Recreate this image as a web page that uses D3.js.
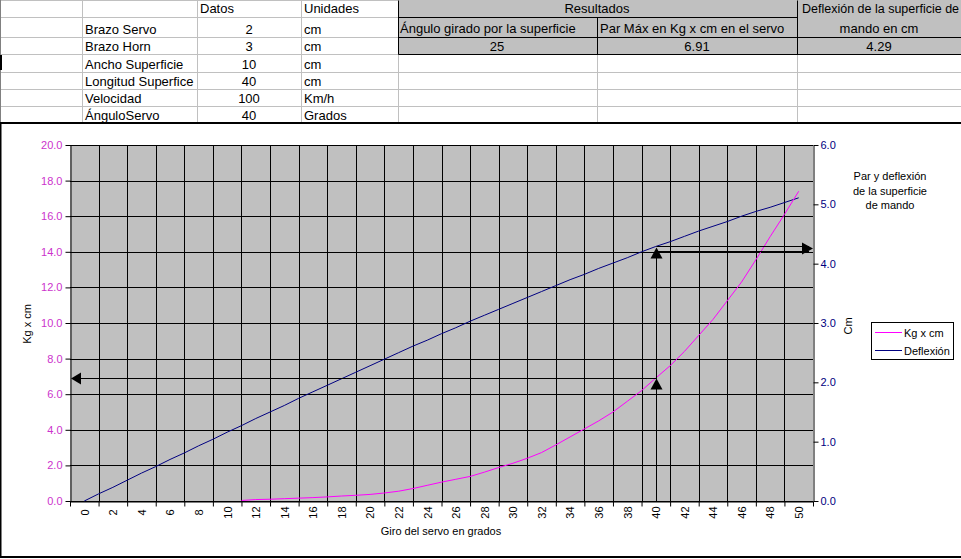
<!DOCTYPE html>
<html>
<head>
<meta charset="utf-8">
<script src="https://cdnjs.cloudflare.com/ajax/libs/d3/7.8.5/d3.min.js"></script>
<style>
body{margin:0;background:#fff;overflow:hidden}
text{font-family:"Liberation Sans",Arial,sans-serif}
</style>
</head>
<body>
<svg width="961" height="559"></svg>
<script>
// spreadsheet cells
var paramNames = ["Brazo Servo","Brazo Horn","Ancho Superficie","Longitud Superfice","Velocidad","ÁnguloServo"]
var paramValues = ["2","3","10","40","100","40"]
var paramUnits = ["cm","cm","cm","cm","Km/h","Grados"]
var resultHeaders = ["Ángulo girado por la superficie","Par Máx en Kg x cm en el servo"]
var resultValues = ["25","6.91","4.29"]

// chart data (servo angle in degrees)
var xLabels = [0,2,4,6,8,10,12,14,16,18,20,22,24,26,28,30,32,34,36,38,40,42,44,46,48,50]
var leftTicks = [0,2,4,6,8,10,12,14,16,18,20]
var rightTicks = [0,1,2,3,4,5,6]

var deflAngles = [0,1,2,3,4,5,6,7,8,9,10,11,12,13,14,15,16,17,18,19,20,21,22,23,24,25,
                  26,27,28,29,30,31,32,33,34,35,36,37,38,39,40,41,42,43,44,45,46,47,48,49,50]
var deflexion = [0,0.12,0.23,0.35,0.47,0.58,0.70,0.81,0.93,1.04,1.16,1.27,1.39,1.50,1.61,1.73,
                 1.84,1.95,2.06,2.17,2.28,2.39,2.50,2.61,2.71,2.82,2.92,3.03,3.13,3.23,3.33,3.43,
                 3.53,3.63,3.73,3.82,3.92,4.01,4.10,4.20,4.29,4.37,4.46,4.55,4.63,4.71,4.80,4.88,
                 4.95,5.03,5.11]

var parAngles = [11,12,13,14,15,16,17,18,19,20,21,22,23,24,25,26,27,28,29,30,
                 31,32,33,34,35,36,37,38,39,40,41,42,43,44,45,46,47,48,49,50]
var parKgCm = [0.03,0.08,0.1,0.13,0.16,0.19,0.23,0.28,0.32,0.37,0.45,0.55,0.7,0.88,1.06,1.22,1.38,1.62,1.88,2.12,
               2.4,2.72,3.15,3.6,4.05,4.5,5.0,5.6,6.2,6.91,7.6,8.4,9.3,10.2,11.25,12.3,13.55,14.85,16.1,17.4]

var servoAngle = 40, parMax = 6.91, deflMax = 4.29

var svg = d3.select("svg")
var font = "Liberation Sans, Arial, sans-serif"

//---------- spreadsheet part ----------
var rowEdges = [0,17,37,54,72,89,106,123]
var colEdges = [82,197,301,398,597,797]

var sheet = svg.append("g").attr("id","sheet")

// gray results block
sheet.append("rect").attr("x",398).attr("y",0).attr("width",570).attr("height",54).attr("fill","#c0c0c0")

rowEdges.forEach(function(r){
    sheet.append("line").attr("x1",0).attr("x2",961).attr("y1",r+0.5).attr("y2",r+0.5)
        .attr("stroke","#c0c0c0")
})
colEdges.forEach(function(c){
    sheet.append("line").attr("x1",c+0.5).attr("x2",c+0.5).attr("y1",0).attr("y2",123)
        .attr("stroke","#c0c0c0")
})
sheet.append("line").attr("x1",0.5).attr("x2",0.5).attr("y1",0).attr("y2",123).attr("stroke","#808080")
sheet.append("line").attr("x1",1).attr("x2",1).attr("y1",55).attr("y2",70).attr("stroke","#000").attr("stroke-width",2)

// black borders of results table
var borders = [[398,17,797,17],[398,37,961,37],[398,54,961,54],[398,0,398,54],[597,17,597,54],[797,0,797,54]]
borders.forEach(function(b){
    sheet.append("line").attr("x1",b[0]+0.5).attr("y1",b[1]+0.5).attr("x2",b[2]+0.5).attr("y2",b[3]+0.5)
        .attr("stroke","#000")
})

function cellText(t,x,y,anchor,size){
    sheet.append("text").text(t).attr("x",x).attr("y",y).attr("text-anchor",anchor||"start")
        .attr("font-size",size||"13px").attr("fill","#000")
}
cellText("Datos",200,13)
cellText("Unidades",304,13)
paramNames.forEach(function(n,i){
    var base = rowEdges[i+2]-3.5
    cellText(n,85,base)
    cellText(paramValues[i],249,base,"middle")
    cellText(paramUnits[i],304,base)
})
cellText("Resultados",597,13,"middle")
cellText(resultHeaders[0],400,33)
cellText(resultHeaders[1],600,33)
cellText("Deflexión de la superficie de",802,13,"start","12.5px")
cellText("mando en cm",879,33,"middle")
cellText(resultValues[0],497,51,"middle")
cellText(resultValues[1],697,51,"middle")
cellText(resultValues[2],879,51,"middle")

//---------- chart ----------
var chart = svg.append("g").attr("id","chart")
chart.append("rect").attr("x",0.5).attr("y",123).attr("width",965).attr("height",434)
    .attr("fill","#fff").attr("stroke","#000").attr("stroke-width",2)

var plot = {left:70,right:813,top:145,bottom:501}
var xScale = d3.scaleLinear().domain([-1,51]).range([plot.left,plot.right])
var yLeft = d3.scaleLinear().domain([0,20]).range([plot.bottom,plot.top])
var yRight = d3.scaleLinear().domain([0,6]).range([plot.bottom,plot.top])

chart.append("rect").attr("x",plot.left).attr("y",plot.top)
    .attr("width",plot.right-plot.left).attr("height",plot.bottom-plot.top).attr("fill","#c0c0c0")

// grid
chart.append("g").selectAll("line").data(leftTicks).enter().append("line")
    .attr("x1",plot.left).attr("x2",plot.right)
    .attr("y1",function(d){return Math.round(yLeft(d))+0.5})
    .attr("y2",function(d){return Math.round(yLeft(d))+0.5})
    .attr("stroke","#000")
var gridX = d3.range(1,50,2)
chart.append("g").selectAll("line").data(gridX).enter().append("line")
    .attr("x1",function(d){return Math.round(xScale(d))+0.5})
    .attr("x2",function(d){return Math.round(xScale(d))+0.5})
    .attr("y1",plot.top).attr("y2",plot.bottom)
    .attr("stroke","#000")

// axes
var leftAxis = chart.append("g").attr("transform","translate("+(plot.left+0.5)+",0)")
    .call(d3.axisLeft(yLeft).tickValues(leftTicks).tickSize(5).tickSizeOuter(0).tickFormat(d3.format(".1f")))
leftAxis.selectAll("text").attr("fill","#cc33cc").attr("font-size","11px").attr("font-family",font).attr("x",-8)

var rightAxis = chart.append("g").attr("transform","translate("+(plot.right+0.5)+",0)")
    .call(d3.axisRight(yRight).tickValues(rightTicks).tickSize(5).tickSizeOuter(0).tickFormat(d3.format(".1f")))
rightAxis.selectAll("text").attr("fill","#000080").attr("font-size","11px").attr("font-family",font).attr("x",7)

var bottomTicks = chart.append("g").attr("transform","translate(0,"+(plot.bottom+0.5)+")")
    .call(d3.axisBottom(xScale).tickValues(d3.range(-1,52,2)).tickSize(5).tickSizeOuter(0).tickFormat(""))
var bottomLabels = chart.append("g").attr("transform","translate(0,"+(plot.bottom+0.5)+")")
    .call(d3.axisBottom(xScale).tickValues(xLabels).tickSize(0).tickFormat(d3.format("d")))
bottomLabels.select(".domain").remove()
bottomLabels.selectAll("text")
    .attr("font-size","11px").attr("font-family",font).attr("fill","#000")
    .attr("transform","rotate(-90)").attr("text-anchor","middle")
    .attr("x",-11).attr("y",0).attr("dy","0.35em")

chart.selectAll(".domain").attr("stroke","#000")
chart.selectAll(".tick line").attr("stroke","#000")

// top border of plot
chart.append("line").attr("x1",plot.left).attr("x2",plot.right).attr("y1",plot.top+0.5).attr("y2",plot.top+0.5).attr("stroke","#000")

// series
chart.append("clipPath").attr("id","clip").append("rect")
    .attr("x",plot.left).attr("y",plot.top).attr("width",plot.right-plot.left).attr("height",plot.bottom-plot.top+1)

var defl = deflAngles.map(function(a,i){return {a:a,v:deflexion[i]}})
var par = parAngles.map(function(a,i){return {a:a,v:parKgCm[i]}})

chart.append("path").datum(defl).attr("clip-path","url(#clip)")
    .attr("d",d3.line().x(function(d){return xScale(d.a)}).y(function(d){return yRight(d.v)}))
    .attr("fill","none").attr("stroke","#000080").attr("stroke-width",1)
chart.append("path").datum(par).attr("clip-path","url(#clip)")
    .attr("d",d3.line().x(function(d){return xScale(d.a)}).y(function(d){return yLeft(d.v)}))
    .attr("fill","none").attr("stroke","#ff00ff").attr("stroke-width",1)

// arrows
var ax = Math.round(xScale(servoAngle))+0.5
var yPar = Math.round(yLeft(parMax))+0.5
var yDef = Math.round(yRight(deflMax))+0.5
var arrows = chart.append("g").attr("stroke","#000").attr("fill","#000")
arrows.append("line").attr("x1",ax).attr("x2",ax).attr("y1",plot.bottom).attr("y2",yDef+2)
arrows.append("line").attr("x1",ax).attr("x2",plot.left+4).attr("y1",yPar).attr("y2",yPar)
arrows.append("line").attr("x1",ax).attr("x2",plot.right-4).attr("y1",yDef).attr("y2",yDef)
arrows.append("line").attr("x1",ax).attr("x2",plot.right-4).attr("y1",yDef+5).attr("y2",yDef+5)
function tri(pts){ arrows.append("path").attr("stroke","none").attr("d","M"+pts.join("L")+"Z") }
tri([[plot.left+1,yPar],[plot.left+11,yPar-6],[plot.left+11,yPar+6]])
tri([[plot.right,yDef+2],[plot.right-11,yDef-4],[plot.right-11,yDef+8]])
tri([[ax,yPar],[ax-6,yPar+11],[ax+6,yPar+11]])
tri([[ax,yDef+1],[ax-6,yDef+12],[ax+6,yDef+12]])

// axis titles
chart.append("text").text("Kg x cm").attr("transform","translate(31,324) rotate(-90)")
    .attr("text-anchor","middle").attr("font-size","11px")
chart.append("text").text("Cm").attr("transform","translate(852,326) rotate(-90)")
    .attr("text-anchor","middle").attr("font-size","11px")
chart.append("text").text("Giro del servo en grados").attr("x",441).attr("y",535)
    .attr("text-anchor","middle").attr("font-size","11px")

var titleLines = ["Par y deflexión","de la superficie","de mando"]
titleLines.forEach(function(t,i){
    chart.append("text").text(t).attr("x",890).attr("y",180+i*14.5)
        .attr("text-anchor","middle").attr("font-size","11px")
})

// legend
var legend = chart.append("g").attr("transform","translate(871,322)")
legend.append("rect").attr("x",0.5).attr("y",0.5).attr("width",82).attr("height",37)
    .attr("fill","#fff").attr("stroke","#000")
var legItems = [{name:"Kg x cm",color:"#ff00ff"},{name:"Deflexión",color:"#000080"}]
legItems.forEach(function(d,i){
    var yy = 10.5+i*18
    legend.append("line").attr("x1",4).attr("x2",31).attr("y1",yy).attr("y2",yy).attr("stroke",d.color)
    legend.append("text").text(d.name).attr("x",33).attr("y",yy+4).attr("font-size","11px")
})
</script>
</body>
</html>
